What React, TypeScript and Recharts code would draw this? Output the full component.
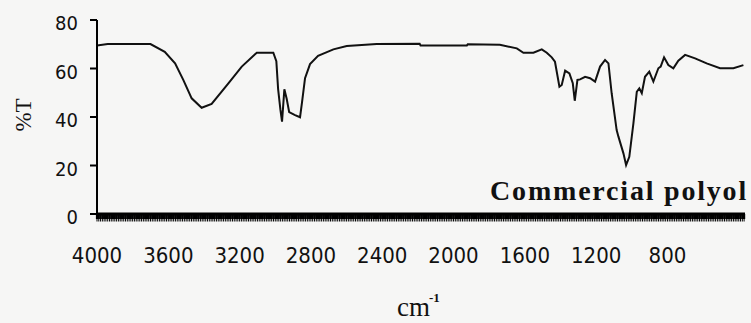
import React from "react";
import { LineChart, Line, XAxis, YAxis } from "recharts";

// FT-IR spectrum of the commercial polyol: wavenumber (cm^-1) vs transmittance (%T)
const wavenumbers = [
  4000, 3940, 3700, 3620, 3562, 3516, 3469, 3413, 3357, 3263, 3188, 3104, 3011,
  2994, 2984, 2971, 2962, 2949, 2936, 2922, 2889, 2861, 2850, 2833, 2805, 2760,
  2674, 2599, 2431, 2190, 2185, 1925, 1920, 1740, 1645, 1608, 1552, 1505, 1477,
  1449, 1431, 1406, 1393, 1374, 1350, 1331, 1320, 1305, 1290, 1262, 1234, 1206,
  1178, 1150, 1131, 1113, 1085, 1075, 1047, 1032, 1014, 991, 972, 958, 944, 926,
  902, 879, 851, 838, 819, 795, 767, 739, 701, 645, 580, 505, 430, 374,
];
const transmittance = [
  69.5, 70.1, 70.1, 66.9, 62.1, 55.3, 47.7, 43.8, 45.4, 53.9, 60.8, 66.5, 66.5,
  63.0, 51.5, 42.9, 38.1, 51.4, 47.5, 42.0, 40.8, 39.9, 46.0, 56.0, 61.8, 65.2,
  67.9, 69.3, 70.1, 70.2, 69.5, 69.5, 70.0, 69.8, 68.3, 66.5, 66.5, 67.9, 66.5,
  64.6, 62.8, 52.5, 53.2, 59.1, 58.0, 53.9, 46.7, 55.3, 55.5, 56.6, 56.0, 54.6,
  60.8, 63.5, 62.1, 49.8, 34.6, 31.9, 25.0, 20.2, 23.6, 37.4, 50.4, 51.8, 49.8, 56.6,
  58.7, 54.6, 60.1, 60.8, 64.6, 61.4, 60.1, 63.2, 65.6, 64.2, 62.1, 60.1, 60.1, 61.4,
];

const xTicks = [4000, 3600, 3200, 2800, 2400, 2000, 1600, 1200, 800];
const yTicks = [0, 20, 40, 60, 80];
const xDomain: [number, number] = [365, 4000];

// dense minor ticks that form the heavy baseline under the plot
const minorTicks: number[] = [];
for (let w = 370; w <= 4000; w += 10) minorTicks.push(w);

const rows = wavenumbers.map((w, i) => ({ wn: w, t: transmittance[i] }));

const tickFont = "'DejaVu Sans Condensed', 'Liberation Sans', Arial, sans-serif";
const serif = "'Liberation Serif', 'Times New Roman', serif";

const XTickLabel = (props: any) => (
  <text
    x={props.x}
    y={props.y + 29}
    textAnchor="middle"
    fontFamily={tickFont}
    fontSize={22}
    fill="#111"
  >
    {props.payload.value}
  </text>
);

// each minor tick: a wide upper part that merges into a solid band, thin tip below
const MinorTick = (props: any) => (
  <g>
    <line
      x1={props.x}
      x2={props.x}
      y1={props.y - 7}
      y2={props.y - 2}
      stroke="#000"
      strokeWidth={2.2}
    />
    <line
      x1={props.x}
      x2={props.x}
      y1={props.y - 2}
      y2={props.y + 0.5}
      stroke="#000"
      strokeWidth={1}
    />
  </g>
);

const YTickLabel = (props: any) => (
  <text
    x={props.x}
    y={props.y + 10}
    textAnchor="end"
    fontFamily={tickFont}
    fontSize={20}
    fill="#111"
  >
    {props.payload.value}
  </text>
);

export default function App() {
  return (
    <div
      style={{
        position: "fixed",
        left: 0,
        top: 0,
        width: 751,
        height: 323,
        background: "#f6f6f5",
      }}
    >
      <LineChart
        width={751}
        height={323}
        data={rows}
        margin={{ top: 20, right: 6, bottom: 69, left: 0 }}
      >
        <XAxis
          xAxisId="base"
          dataKey="wn"
          type="number"
          domain={xDomain}
          reversed
          allowDataOverflow
          ticks={minorTicks}
          interval={0}
          height={20}
          tickSize={7}
          tickMargin={0}
          tick={MinorTick}
          tickLine={false}
          axisLine={{ stroke: "#000", strokeWidth: 3 }}
        />
        <XAxis
          xAxisId="labels"
          dataKey="wn"
          type="number"
          domain={xDomain}
          reversed
          allowDataOverflow
          ticks={xTicks}
          interval={0}
          height={20}
          tickSize={0}
          tickMargin={0}
          tickLine={false}
          axisLine={false}
          tick={XTickLabel}
        />
        <YAxis
          type="number"
          domain={[0, 80]}
          ticks={yTicks}
          interval={0}
          width={97}
          tickSize={7}
          tickMargin={12}
          tickLine={{ stroke: "#000", strokeWidth: 2 }}
          axisLine={{ stroke: "#000", strokeWidth: 2 }}
          tick={YTickLabel}
        />
        <Line
          xAxisId="base"
          dataKey="t"
          type="linear"
          stroke="#111"
          strokeWidth={2}
          dot={false}
          isAnimationActive={false}
        />
      </LineChart>
      <svg
        width={751}
        height={323}
        style={{ position: "absolute", left: 0, top: 0, pointerEvents: "none" }}
      >
        <text
          transform="translate(23,115) rotate(-90)"
          textAnchor="middle"
          dominantBaseline="central"
          fontFamily={serif}
          fontSize={23}
          fill="#111"
        >
          %T
        </text>
        <text
          x={748}
          y={200}
          textAnchor="end"
          fontFamily={serif}
          fontWeight="bold"
          fontSize={28}
          letterSpacing={1.8}
          fill="#111"
        >
          Commercial polyol
        </text>
        <text x={397} y={316} fontFamily={serif} fontSize={27} fill="#111">
          cm
        </text>
        <text
          x={429}
          y={302}
          fontFamily={serif}
          fontWeight="bold"
          fontSize={13}
          fill="#111"
        >
          -1
        </text>
      </svg>
    </div>
  );
}
